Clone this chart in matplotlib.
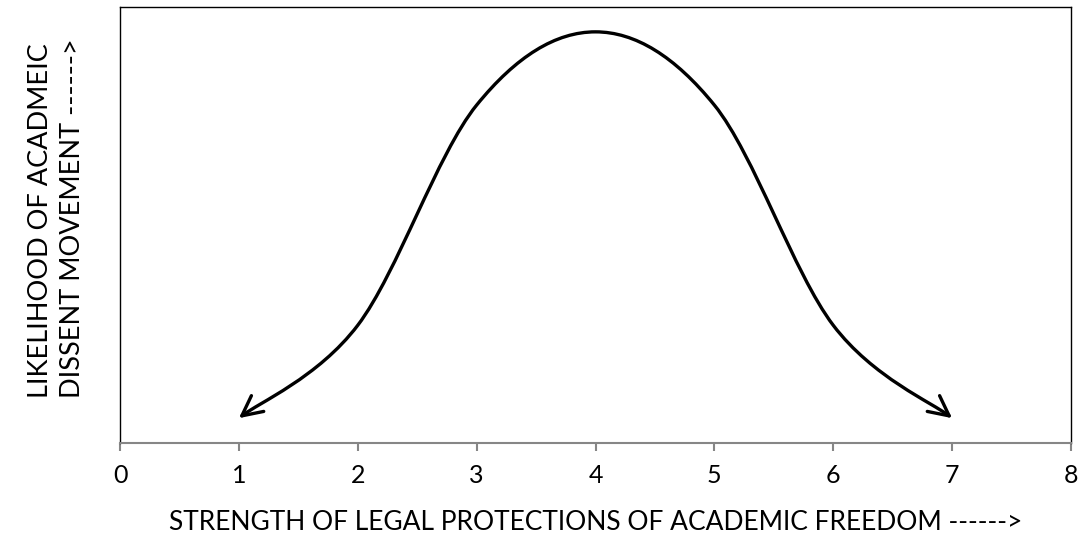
import numpy as np
import matplotlib
matplotlib.use('Agg')
from matplotlib import pyplot as plt
from matplotlib.path import Path
from matplotlib.patches import FancyArrowPatch

# curve points (Excel-style smoothed scatter)
strength = [1, 2, 3, 4, 5, 6, 7]
likelihood = [5.7, 27.0, 77.5, 94.3, 77.5, 27.0, 5.7]

x_ticks = [0, 1, 2, 3, 4, 5, 6, 7, 8]
x_label = 'STRENGTH OF LEGAL PROTECTIONS OF ACADEMIC FREEDOM ------>'
y_label = 'LIKELIHOOD OF ACADMEIC\nDISSENT MOVEMENT ------>'


def smooth_path(xs, ys):
    pts = np.column_stack([xs, ys]).astype(float)
    n = len(pts)
    verts = [pts[0]]
    codes = [Path.MOVETO]
    for i in range(n - 1):
        p0 = pts[i - 1] if i > 0 else pts[i]
        p1 = pts[i]
        p2 = pts[i + 1]
        p3 = pts[i + 2] if i + 2 < n else pts[i + 1]
        c1 = p1 + (p2 - p0) / 6
        c2 = p2 - (p3 - p1) / 6
        verts += [c1, c2, p2]
        codes += [Path.CURVE4] * 3
    return Path(verts, codes)


def main():
    plt.rcParams['font.family'] = ['Lato', 'DejaVu Sans']
    fig = plt.figure(figsize=(10.78, 5.35), dpi=100)
    ax = fig.add_axes((120 / 1078, 1 - 443 / 535, 951 / 1078, 436 / 535))

    ax.set_xlim(0, 8)
    ax.set_ylim(0, 100)

    arrow = FancyArrowPatch(path=smooth_path(strength, likelihood),
                            arrowstyle='<->,head_length=0.9,head_width=0.45',
                            color='black', lw=2.4, mutation_scale=16,
                            capstyle='round', joinstyle='round')
    ax.add_patch(arrow)

    for side in ('top', 'left', 'right'):
        ax.spines[side].set_color('black')
        ax.spines[side].set_linewidth(1.0)
    ax.spines['bottom'].set_color('#868686')
    ax.spines['bottom'].set_linewidth(1.5)

    ax.set_xticks(x_ticks)
    ax.set_xticklabels([str(t) for t in x_ticks])
    ax.set_yticks([])
    ax.tick_params(axis='x', direction='out', length=6, width=1.5,
                   color='#868686', labelsize=18, pad=9)
    ax.set_xlabel(x_label, fontsize=19, labelpad=17)

    fig.text(56 / 1078, 1 - 218 / 535, y_label, rotation=90, fontsize=19.5,
             ha='center', va='center', multialignment='left',
             linespacing=1.35)

    fig.savefig('out.png', dpi=100)


if __name__ == '__main__':
    main()
